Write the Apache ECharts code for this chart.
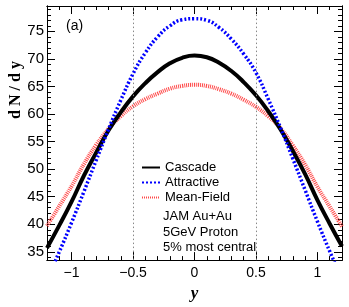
<!DOCTYPE html>
<html>
<head>
<meta charset="utf-8">
<script src="https://cdn.jsdelivr.net/npm/echarts@6/dist/echarts.min.js"></script>
<style>html,body{margin:0;padding:0;background:#fff}#c{width:349px;height:307px}</style>
</head>
<body>
<div id="c"></div>
<script>
// ---- data ----
const rapidity = [-1.2,-1.1,-1.0,-0.9,-0.8,-0.7,-0.6,-0.5,-0.4,-0.3,-0.2,-0.1,0,0.1,0.2,0.3,0.4,0.5,0.6,0.7,0.8,0.9,1.0,1.1,1.2];
const cascade = [35.7,39.8,44.1,48.8,53.0,57.0,60.3,63.2,65.6,67.6,69.2,70.2,70.6,70.3,69.3,67.8,65.8,63.4,60.5,57.2,53.3,49.1,44.4,40.1,36.0];
const attractive = [30.0,35.0,40.3,45.9,51.6,57.2,62.5,67.3,71.1,74.0,76.0,77.1,77.3,77.0,75.7,73.6,70.9,67.5,62.7,57.5,51.9,46.2,40.5,35.1,30.1];
const meanField = [39.7,43.3,46.9,50.9,54.4,57.3,59.6,61.4,62.7,63.7,64.6,65.1,65.3,65.1,64.5,63.7,62.6,61.3,59.6,57.4,54.3,50.8,46.8,43.2,39.6];
const xMajorTicks = [-1,-0.5,0,0.5,1];
const xMinorTicks = [-1.2,-1.1,-1.0,-0.9,-0.8,-0.7,-0.6,-0.5,-0.4,-0.3,-0.2,-0.1,0,0.1,0.2,0.3,0.4,0.5,0.6,0.7,0.8,0.9,1.0,1.1,1.2];
const yMajorTicks = [35,40,45,50,55,60,65,70,75];
const yMinorTicks = [34,35,36,37,38,39,40,41,42,43,44,45,46,47,48,49,50,51,52,53,54,55,56,57,58,59,60,61,62,63,64,65,66,67,68,69,70,71,72,73,74,75,76,77,78,79];
const guideLines = [-0.5, 0.5];
const legendNames = ['Cascade','Attractive','Mean-Field'];
const infoLines = ['JAM Au+Au','5GeV Proton','5% most central'];
const panelLabel = '(a)';
const xTitle = 'y';
const yTitle = 'd N / d y';

const X_MIN = -1.2, X_MAX = 1.2, Y_MIN = 33.5, Y_MAX = 79.6;
const SANS = 'Liberation Sans';
const SERIF = 'Liberation Serif';
const fmtX = v => (v < 0 ? '\u2212' + String(-v) : String(v));

function xAx(pos, ticks, len, labels) {
  return {
    type: 'value', position: pos, min: X_MIN, max: X_MAX, gridIndex: 0,
    axisLine: {show: true, onZero: false, lineStyle: {color: '#000', width: 1}},
    axisTick: {show: true, inside: true, length: len, customValues: ticks, lineStyle: {color: '#000', width: 1}},
    axisLabel: labels ? {show: true, customValues: xMajorTicks, formatter: fmtX, fontFamily: SANS, fontSize: 14, color: '#000', margin: 6} : {show: false},
    splitLine: {show: false}
  };
}
function yAx(pos, ticks, len, labels) {
  return {
    type: 'value', position: pos, min: Y_MIN, max: Y_MAX, gridIndex: 0,
    axisLine: {show: true, onZero: false, lineStyle: {color: '#000', width: 1}},
    axisTick: {show: true, inside: true, length: len, customValues: ticks, lineStyle: {color: '#000', width: 1}},
    axisLabel: labels ? {show: true, customValues: yMajorTicks, fontFamily: SANS, fontSize: 15, color: '#000', margin: 3} : {show: false},
    splitLine: {show: false}
  };
}

const xs = rapidity;
const mk = arr => xs.map((x, i) => [x, arr[i]]);

const chart = echarts.init(document.getElementById('c'), null, {renderer: 'canvas'});
chart.setOption({
  animation: false,
  backgroundColor: '#fff',
  grid: {left: 47, right: 7, top: 6, bottom: 40},
  xAxis: [
    Object.assign(xAx('bottom', xMajorTicks, 8, true), {
      name: xTitle, nameLocation: 'middle', nameGap: 22,
      nameTextStyle: {fontFamily: SERIF, fontStyle: 'italic', fontWeight: 'bold', fontSize: 17, color: '#000'}
    }),
    xAx('bottom', xMinorTicks, 4, false),
    xAx('top', xMajorTicks, 8, false),
    xAx('top', xMinorTicks, 4, false)
  ],
  yAxis: [
    yAx('left', yMajorTicks, 8, true),
    yAx('left', yMinorTicks, 4, false),
    yAx('right', yMajorTicks, 8, false),
    yAx('right', yMinorTicks, 4, false)
  ],
  legend: {
    show: true, orient: 'vertical', left: 141, top: 161,
    itemWidth: 18, itemHeight: 14, itemGap: 2, padding: 0,
    data: legendNames,
    itemStyle: {opacity: 0},
    textStyle: {fontFamily: SANS, fontSize: 13, color: '#000'}
  },
  series: [
    {
      type: 'line', name: 'guides', data: [], xAxisIndex: 0, yAxisIndex: 0, z: 1, silent: true,
      markLine: {
        silent: true, symbol: 'none', label: {show: false},
        lineStyle: {type: [1.5, 2.5], color: '#888', width: 1},
        data: guideLines.map(v => ({xAxis: v}))
      }
    },
    {
      type: 'line', name: legendNames[2], data: mk(meanField), xAxisIndex: 0, yAxisIndex: 0,
      symbol: 'none', smooth: true, z: 3, clip: true,
      lineStyle: {color: '#ff4a4a', width: 4, type: [1, 1]}, itemStyle: {color: '#ff4a4a'}
    },
    {
      type: 'line', name: legendNames[0], data: mk(cascade), xAxisIndex: 0, yAxisIndex: 0,
      symbol: 'none', smooth: true, z: 4, clip: true,
      lineStyle: {color: '#000', width: 4, type: 'solid'}, itemStyle: {color: '#000'}
    },
    {
      type: 'line', name: legendNames[1], data: mk(attractive), xAxisIndex: 0, yAxisIndex: 0,
      symbol: 'none', smooth: true, z: 5, clip: true,
      lineStyle: {color: '#0000ff', width: 3.5, type: [2, 2]}, itemStyle: {color: '#0000ff'}
    }
  ],
  graphic: [
    {type: 'text', x: 66, y: 26, style: {text: panelLabel, fontFamily: SANS, fontSize: 14, fill: '#000', verticalAlign: 'middle'}},
    {type: 'text', x: 16, y: 90, rotation: Math.PI / 2, style: {text: yTitle, fontFamily: SERIF, fontWeight: 'bold', fontSize: 16, fill: '#000', align: 'center', verticalAlign: 'middle'}}
  ].concat(infoLines.map((t, i) => ({
    type: 'text', x: 163, y: 216.8 + i * 15.2,
    style: {text: t, fontFamily: SANS, fontSize: 13, fill: '#000', verticalAlign: 'middle'}
  })))
});
</script>
</body>
</html>
